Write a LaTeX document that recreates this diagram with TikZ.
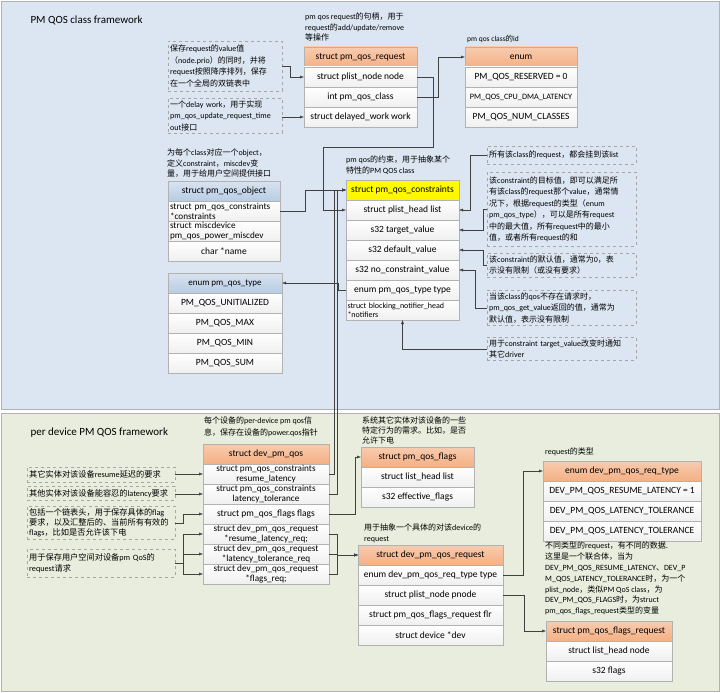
\documentclass[tikz,border=0pt]{standalone}
\usepackage{fontspec}
\setmainfont{Carlito}
\newfontfamily\cjk{Noto Sans CJK SC}
\newcommand\zh[1]{{\cjk #1}}
\usetikzlibrary{arrows.meta}
\definecolor{classbg}{RGB}{220,230,242}
\definecolor{devbg}{RGB}{233,237,221}
\definecolor{hdrorange}{RGB}{244,176,132}
\definecolor{hdrblue}{RGB}{184,204,228}
\definecolor{linegray}{RGB}{64,64,64}
\tikzset{
  fld/.style={draw=gray!60, minimum width=#1, minimum height=20pt, inner sep=0pt, outer sep=0pt, align=center, top color=white, bottom color=gray!12, font=\fontsize{9.5}{11}\selectfont},
  orangehdr/.style={fld=#1, top color=hdrorange!65, bottom color=hdrorange},
  bluehdr/.style={fld=#1, top color=hdrblue!55, bottom color=hdrblue},
  yellowhdr/.style={fld=#1, top color=yellow, bottom color=yellow!92!orange},
  twoline/.style={align=left, text width=#1, font=\fontsize{9.2}{10}\selectfont},
  memo/.style={draw=gray!70, dashed, anchor=north west, text width=#1, align=left, inner sep=2pt, font=\fontsize{8}{11.5}\selectfont},
  memocap/.style={anchor=north west, align=left, inner sep=0pt, font=\fontsize{8}{10.5}\selectfont},
  link/.style={draw=linegray, -{Latex[length=4pt,width=3pt]}},
}
\begin{document}
\begin{tikzpicture}[x=1pt, y=-1pt]
    \useasboundingbox (0,0) rectangle (720,693);

    % PM QOS class framework
    \draw[draw=gray!60, fill=classbg] (1,1) rectangle (719,409);
    \node[anchor=west, font=\fontsize{11}{13}\selectfont] (classtitle) at (27,20) {PM QOS class framework};

    % notes on the left of pm_qos_request
    \node[memo=110pt, minimum height=50pt] (a1) at (168,41) {\zh{保存}request\zh{的}value\zh{值}\\\zh{（}node.prio\zh{）的同时，并将}\\request\zh{按照降序排列，保存}\\\zh{在一个全局的双链表中}};
    \node[memo=110pt, minimum height=35pt] (a2) at (168,98) {\zh{一个}delay work\zh{，用于实现}\\pm\_qos\_update\_request\_time\\out\zh{接口}};

    % struct pm_qos_request
    \node[memocap] (reqcap) at (305,13) {pm qos request\zh{的句柄，用于}\\request\zh{的}add/update/remove\\\zh{等操作}};
    \node[orangehdr=113pt] (reqhead) at (360.5,57) {struct pm\_qos\_request};
    \node[fld=113pt] (reqnode) at (360.5,77) {struct plist\_node node};
    \node[fld=113pt] (reqclass) at (360.5,97) {int pm\_qos\_class};
    \node[fld=113pt] (reqwork) at (360.5,117) {struct delayed\_work work};

    % class id
    \node[memocap, anchor=west, font=\fontsize{7.5}{9}\selectfont] (classidcap) at (467,39) {pm qos class\zh{的}id};
    \node[orangehdr=112pt] (classid) at (521,57) {enum};
    \node[fld=112pt] (qosreserved) at (521,77) {PM\_QOS\_RESERVED = 0};
    \node[fld=112pt, font=\fontsize{8.2}{9}\selectfont] (qoscpu) at (521,97) {PM\_QOS\_CPU\_DMA\_LATENCY};
    \node[fld=112pt] (qosnum) at (521,117) {PM\_QOS\_NUM\_CLASSES};

    % struct pm_qos_object
    \node[memocap] (objcap) at (167,149) {\zh{为每个}class\zh{对应一个}object\zh{，}\\\zh{定义}constraint\zh{，}miscdev\zh{变}\\\zh{量，用于给用户空间提供接口}};
    \node[bluehdr=112pt] (objhead) at (224,191) {struct pm\_qos\_object};
    \node[fld=112pt, twoline=108pt] (objcons) at (224,211) {struct pm\_qos\_constraints\\{*}constraints};
    \node[fld=112pt, twoline=108pt] (objmisc) at (224,231) {struct miscdevice\\pm\_qos\_power\_miscdev};
    \node[fld=112pt] (objname) at (224,251) {char *name};

    % enum pm_qos_type
    \node[bluehdr=114pt, font=\fontsize{9}{10}\selectfont] (typehead) at (225,283) {enum pm\_qos\_type};
    \node[fld=114pt] (typeunit) at (225,303) {PM\_QOS\_UNITIALIZED};
    \node[fld=114pt] (typemax) at (225,323) {PM\_QOS\_MAX};
    \node[fld=114pt] (typemin) at (225,343) {PM\_QOS\_MIN};
    \node[fld=114pt] (typesum) at (225,363) {PM\_QOS\_SUM};

    % struct pm_qos_constraints
    \node[memocap] (conscap) at (346,156) {pm qos\zh{的约束，用于抽象某个}\\\zh{特性的}PM QOS class};
    \node[yellowhdr=113pt] (conshead) at (402.5,190) {struct pm\_qos\_constraints};
    \node[fld=113pt] (conslist) at (402.5,210) {struct plist\_head list};
    \node[fld=113pt] (constarget) at (402.5,230) {s32 target\_value};
    \node[fld=113pt] (consdefault) at (402.5,250) {s32 default\_value};
    \node[fld=113pt] (consnone) at (402.5,270) {s32 no\_constraint\_value};
    \node[fld=113pt] (constype) at (402.5,290) {enum pm\_qos\_type type};
    \node[fld=113pt, align=left, text width=110pt, font=\fontsize{8}{9.5}\selectfont] (consnotif) at (402.5,310) {struct blocking\_notifier\_head\\{*}notifiers};

    % notes on the right
    \node[memo=145pt, minimum height=18pt] (c1) at (487,146) {\zh{所有该}class\zh{的}request\zh{，都会挂到该}list};
    \node[memo=145pt, minimum height=74pt] (c2) at (487,172) {\zh{该}constraint\zh{的目标值，即可以满足所}\\\zh{有该}class\zh{的}request\zh{那个}value\zh{，通常情}\\\zh{况下，根据}request\zh{的类型（}enum\\pm\_qos\_type\zh{），可以是所有}request\\\zh{中的最大值，所有}request\zh{中的最小}\\\zh{值，或者所有}request\zh{的和}};
    \node[memo=145pt, minimum height=24pt] (c3) at (487,253) {\zh{该}constraint\zh{的默认值，通常为}0\zh{，表}\\\zh{示没有限制（或没有要求）}};
    \node[memo=145pt, minimum height=35pt] (c4) at (487,290) {\zh{当该}class\zh{的}qos\zh{不存在请求时，}\\pm\_qos\_get\_value\zh{返回的值，通常为}\\\zh{默认值，表示没有限制}};
    \node[memo=145pt, minimum height=23pt] (c5) at (487,337) {\zh{用于}constraint target\_value\zh{改变时通知}\\\zh{其它}driver};

    % per device PM QOS framework
    \draw[draw=gray!60, fill=devbg] (1,413) rectangle (719,691);
    \node[anchor=west, font=\fontsize{11}{13}\selectfont] (devtitle) at (27,433) {per device PM QOS framework};

    % notes on the left of dev_pm_qos
    \node[memo=144pt, minimum height=15pt, font=\fontsize{8.2}{10}\selectfont] (b1) at (27,467) {\zh{其它实体对该设备}resume\zh{延迟的要求}};
    \node[memo=144pt, minimum height=14pt, font=\fontsize{8.2}{10}\selectfont] (b2) at (27,486) {\zh{其他实体对该设备能容忍的}latency\zh{要求}};
    \node[memo=144pt, minimum height=33pt, font=\fontsize{8.2}{10}\selectfont] (b3) at (27,506) {\zh{包括一个链表头，用于保存具体的}flag\\\zh{要求，以及汇整后的、当前所有有效的}\\flags\zh{，比如是否允许该下电}};
    \node[memo=144pt, minimum height=28pt, font=\fontsize{8.2}{11}\selectfont] (b4) at (27,549) {\zh{用于保存用户空间对设备}pm QoS\zh{的}\\request\zh{请求}};

    % struct dev_pm_qos
    \node[memocap, font=\fontsize{8}{12}\selectfont] (devcap) at (204,417) {\zh{每个设备的}per-device pm qos\zh{信}\\\zh{息，保存在设备的}power.qos\zh{指针}};
    \node[orangehdr=126pt] (devhead) at (266,454) {struct dev\_pm\_qos};
    \node[fld=126pt, font=\fontsize{9.2}{10}\selectfont] (devresume) at (266,474) {struct pm\_qos\_constraints\\resume\_latency};
    \node[fld=126pt, font=\fontsize{9.2}{10}\selectfont] (devtol) at (266,494) {struct pm\_qos\_constraints\\latency\_tolerance};
    \node[fld=126pt] (devflags) at (266,514) {struct pm\_qos\_flags flags};
    \node[fld=126pt, font=\fontsize{9.2}{10}\selectfont] (devresreq) at (266,534) {struct dev\_pm\_qos\_request\\{*}resume\_latency\_req;};
    \node[fld=126pt, font=\fontsize{9.2}{10}\selectfont] (devtolreq) at (266,554) {struct dev\_pm\_qos\_request\\{*}latency\_tolerance\_req};
    \node[fld=126pt, font=\fontsize{9.2}{10}\selectfont] (devflagsreq) at (266,574) {struct dev\_pm\_qos\_request\\{*}flags\_req;};

    % struct pm_qos_flags
    \node[memocap, font=\fontsize{8}{10}\selectfont] (flagscap) at (362,417) {\zh{系统其它实体对该设备的一些}\\\zh{特定行为的需求。比如，是否}\\\zh{允许下电}};
    \node[orangehdr=113pt] (flagshead) at (417.5,457) {struct pm\_qos\_flags};
    \node[fld=113pt] (flagslist) at (417.5,477) {struct list\_head list};
    \node[fld=113pt] (flagseff) at (417.5,497) {s32 effective\_flags};

    % struct dev_pm_qos_request
    \node[memocap, font=\fontsize{8}{10.5}\selectfont] (devreqcap) at (364,524) {\zh{用于抽象一个具体的对该}device\zh{的}\\request};
    \node[orangehdr=145pt] (devreqhead) at (430.5,555) {struct dev\_pm\_qos\_request};
    \node[fld=145pt] (devreqtype) at (430.5,575) {enum dev\_pm\_qos\_req\_type type};
    \node[fld=145pt] (devreqpnode) at (430.5,595) {struct plist\_node pnode};
    \node[fld=145pt] (devreqflr) at (430.5,615) {struct pm\_qos\_flags\_request flr};
    \node[fld=145pt] (devreqdev) at (430.5,635) {struct device *dev};

    % enum dev_pm_qos_req_type
    \node[memocap, anchor=west] (reqtypecap) at (545,452) {request\zh{的类型}};
    \node[orangehdr=158pt] (reqtypehead) at (622,471) {enum dev\_pm\_qos\_req\_type};
    \node[fld=158pt] (reqresume) at (622,491) {DEV\_PM\_QOS\_RESUME\_LATENCY = 1};
    \node[fld=158pt] (reqtol) at (622,511) {DEV\_PM\_QOS\_LATENCY\_TOLERANCE};
    \node[fld=158pt] (reqtoltwo) at (622,531) {DEV\_PM\_QOS\_LATENCY\_TOLERANCE};
    \node[memocap, font=\fontsize{8}{10.8}\selectfont] (unioncap) at (545,542) {\zh{不同类型的}request\zh{，有不同的数据.}\\\zh{这里是一个联合体，当为}\\DEV\_PM\_QOS\_RESUME\_LATENCY\zh{、}DEV\_P\\M\_QOS\_LATENCY\_TOLERANCE\zh{时，为一个}\\plist\_node\zh{，类似}PM QoS class\zh{，为}\\DEV\_PM\_QOS\_FLAGS\zh{时，为}struct\\pm\_qos\_flags\_request\zh{类型的变量}};

    % struct pm_qos_flags_request
    \node[orangehdr=126pt] (flagsreqhead) at (609,631) {struct pm\_qos\_flags\_request};
    \node[fld=126pt] (flagsreqnode) at (609,651) {struct list\_head node};
    \node[fld=126pt] (flagsreqflags) at (609,671) {s32 flags};

    % Links, class part
    \draw[link] (a1.east) -- ++(8,0) |- (reqnode.west);
    \draw[link] (a2.east |- reqwork.west) -- (reqwork.west);
    \draw[link] (reqclass.east) -- ++(21,0) |- (classid.west);
    \draw[link] (reqnode.east) -- ++(16,0) -- ++(0,70) -| ([xshift=-23pt]conslist.west) -- (conslist.west);
    \draw[link] (objcons.east) -- ++(25,0) |- (conshead.west);
    \draw[link] (devresume.east) -- ++(5,0) |- (conshead.west);
    \draw[link] (devtol.east) -- ++(8,0) |- (conshead.west);
    \draw[link] (constype.west) -- ++(-8,0) |- (typehead.east);
    \draw[link] (c1.west) -- ++(-17,0) |- (conslist.east);
    \draw[link] (c2.west) -- ++(-4,0) |- (constarget.east);
    \draw[link] (c3.west) -- ++(-4,0) |- (consdefault.east);
    \draw[link] (c4.west) -- ++(-12,0) |- (consnone.east);
    \draw[link] (c5.west) -| (consnotif.south);

    % Links, device part
    \draw[link] (devresume.west -| b1.east) -- (devresume.west);
    \draw[link] (devtol.west -| b2.east) -- (devtol.west);
    \draw[link] (b3.east) -- ++(8,0) |- (devflags.west);
    \draw[link] (b4.east) -- ++(8,0) |- (devresreq.west);
    \draw[link] (b4.east) -- ++(8,0) |- (devtolreq.west);
    \draw[link] (b4.east) -- ++(8,0) |- (devflagsreq.west);
    \draw[link] (devflags.east) -- ++(26,0) |- (flagshead.west);
    \draw[link] (devresreq.east) -- ++(8,0) |- (devreqhead.west);
    \draw[link] (devtolreq.east) -- ++(8,0) |- (devreqhead.west);
    \draw[link] (devflagsreq.east) -- ++(8,0) |- (devreqhead.west);
    \draw[link] (devreqtype.east) -- ++(20,0) |- (reqtypehead.west);
    \draw[link] (devreqpnode.east) -- ++(21,0) |- (flagsreqhead.west);
\end{tikzpicture}
\end{document}
